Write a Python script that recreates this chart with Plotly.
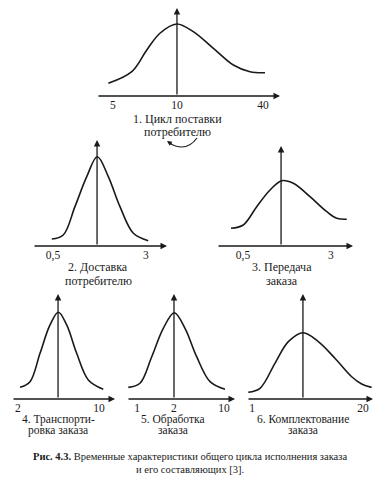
import plotly.graph_objects as go

W, H = 381, 497

# ---- data (relative time position along each axis, relative frequency) ----
c1_x = [6.2, 19.0, 27.2, 34.4, 43.6, 52.6, 63.6, 74.5, 83.6, 91.8]
c1_y = [14.4, 27.6, 52.3, 71.3, 81.8, 73.1, 54.2, 35.2, 27.6, 26.5]
c2_x = [14.0, 22.6, 31.3, 40.1, 48.0, 56.2, 64.9, 74.9, 86.0]
c2_y = [6.6, 10.4, 37.1, 65.4, 84.2, 65.4, 37.1, 12.0, 5.0]
c3_x = [10.3, 19.3, 29.2, 39.0, 47.6, 56.1, 68.4, 80.7, 88.0, 95.4]
c3_y = [17.7, 21.0, 39.3, 56.0, 65.3, 62.7, 49.3, 34.3, 27.7, 26.7]
c4_x = [7.8, 17.5, 27.2, 36.9, 45.0, 53.1, 62.8, 74.1, 88.6]
c4_y = [11.1, 16.5, 43.5, 70.5, 82.6, 70.5, 43.5, 18.1, 9.2]
c5_x = [1.2, 12.0, 22.9, 33.6, 43.8, 53.7, 64.5, 76.9, 90.7]
c5_y = [11.1, 15.0, 40.3, 67.3, 82.2, 67.3, 40.3, 16.5, 9.2]
c6_x = [1.0, 10.3, 22.2, 32.8, 44.7, 56.6, 69.8, 83.1, 91.0, 98.9]
c6_y = [6.4, 10.2, 34.0, 54.6, 63.1, 54.6, 38.8, 21.2, 14.3, 11.1]

modes = [43.7, 47.8, 47.1, 44.7, 43.5, 44.4]
tick_pos = [[8.7, 43.7, 90.7], [14.9, 84.3], [19.1, 83.8], [5.8, 84.5], [9.3, 43.5, 89.8], [4.0, 92.1]]
tick_labels = [["5", "10", "40"], ["0,5", "3"], ["0,5", "3"], ["2", "10"], ["1", "2", "10"], ["1", "20"]]
titles = [["1. Цикл поставки", "потребителю"],
          ["2. Доставка", "потребителю"],
          ["3. Передача", "заказа"],
          ["4. Транспорти-", "ровка заказа"],
          ["5. Обработка", "заказа"],
          ["6. Комплектование", "заказа"]]
caption_bold = "Рис. 4.3."
caption_1 = "Временные характеристики общего цикла исполнения заказа"
caption_2 = "и его составляющих [3]."

curves = [(c1_x, c1_y), (c2_x, c2_y), (c3_x, c3_y), (c4_x, c4_y), (c5_x, c5_y), (c6_x, c6_y)]

# ---- layout geometry (pixels): x0, x1, y of axis, y of arrow tip ----
boxes = [(97, 280, 96, 8), (33, 167, 246, 140), (217, 353, 246, 146),
         (12, 115, 399, 294), (127, 235, 399, 294), (247, 373, 399, 294)]
title_pos = [(177, 119, 132), (98, 267, 281), (282, 267, 281),
             (58, 419, 430), (173, 419, 430), (303, 419, 430)]

px = lambda x: x / W
py = lambda y: 1 - y / H

INK = "#1a1a1a"
SERIF = "Liberation Serif, Tinos, Times New Roman, Times, serif"

fig = go.Figure()
annotations = []
layout = {}
for i, ((cx, cy), (x0, x1, ya, yt)) in enumerate(zip(curves, boxes)):
    n = "" if i == 0 else str(i + 1)
    xa, yax = "x" + n, "y" + n
    fs = 12 if i < 3 else 11.5
    fig.add_trace(go.Scatter(x=cx, y=cy, mode="lines", xaxis=xa, yaxis=yax,
                             line=dict(color=INK, width=1.6, shape="spline", smoothing=1.0),
                             hoverinfo="skip", showlegend=False, cliponaxis=False))
    layout["xaxis" + n] = dict(domain=[px(x0), px(x1)], range=[0, 100], anchor=yax,
                               showgrid=False, zeroline=False, showline=False,
                               tickvals=tick_pos[i], ticktext=tick_labels[i], ticks="",
                               tickfont=dict(family=SERIF, size=11.5, color=INK), fixedrange=True)
    layout["yaxis" + n] = dict(domain=[py(ya), py(yt)], range=[0, 100], anchor=xa,
                               showgrid=False, zeroline=False, showline=False,
                               showticklabels=False, ticks="", fixedrange=True)
    # horizontal time axis with arrow
    annotations.append(dict(x=100, y=0, ax=0, ay=0, xref=xa, yref=yax, axref=xa, ayref=yax,
                            text="", showarrow=True, arrowhead=2, arrowsize=1.0,
                            arrowwidth=1.3, arrowcolor=INK, standoff=0))
    # vertical line at the mode with arrow
    annotations.append(dict(x=modes[i], y=100, ax=modes[i], ay=0, xref=xa, yref=yax,
                            axref=xa, ayref=yax, text="", showarrow=True, arrowhead=2,
                            arrowsize=1.0, arrowwidth=1.3, arrowcolor=INK, standoff=0))
    tx, t1, t2 = title_pos[i]
    for line, yy in zip(titles[i], (t1, t2)):
        annotations.append(dict(x=px(tx), y=py(yy), xref="paper", yref="paper", text=line,
                                showarrow=False, xanchor="center", yanchor="middle",
                                font=dict(family=SERIF, size=fs, color=INK)))

# caption
annotations.append(dict(x=px(190), y=py(456), xref="paper", yref="paper",
                        text="<b>" + caption_bold + "</b> " + caption_1, showarrow=False,
                        xanchor="center", yanchor="middle",
                        font=dict(family=SERIF, size=10.5, color=INK)))
annotations.append(dict(x=px(190), y=py(469), xref="paper", yref="paper", text=caption_2,
                        showarrow=False, xanchor="center", yanchor="middle",
                        font=dict(family=SERIF, size=10.5, color=INK)))

# small curved arrow under title 1
annotations.append(dict(x=px(167), y=py(141), xref="paper", yref="paper", text="",
                        showarrow=True, ax=6, ay=4, arrowhead=2, arrowsize=0.8,
                        arrowwidth=1.2, arrowcolor=INK, standoff=0))
shapes = [dict(type="path", xref="paper", yref="paper",
               path=f"M {px(197)},{py(138)} Q {px(186)},{py(153)} {px(169)},{py(143)}",
               line=dict(color=INK, width=1.2))]

fig.update_layout(width=W, height=H, margin=dict(l=0, r=0, t=0, b=0),
                  paper_bgcolor="white", plot_bgcolor="rgba(0,0,0,0)",
                  font=dict(family=SERIF),
                  annotations=annotations, shapes=shapes, **layout)
fig.write_html("out.html", config={"displayModeBar": False},
               post_script="document.body.style.margin='0';document.body.style.padding='0';")
